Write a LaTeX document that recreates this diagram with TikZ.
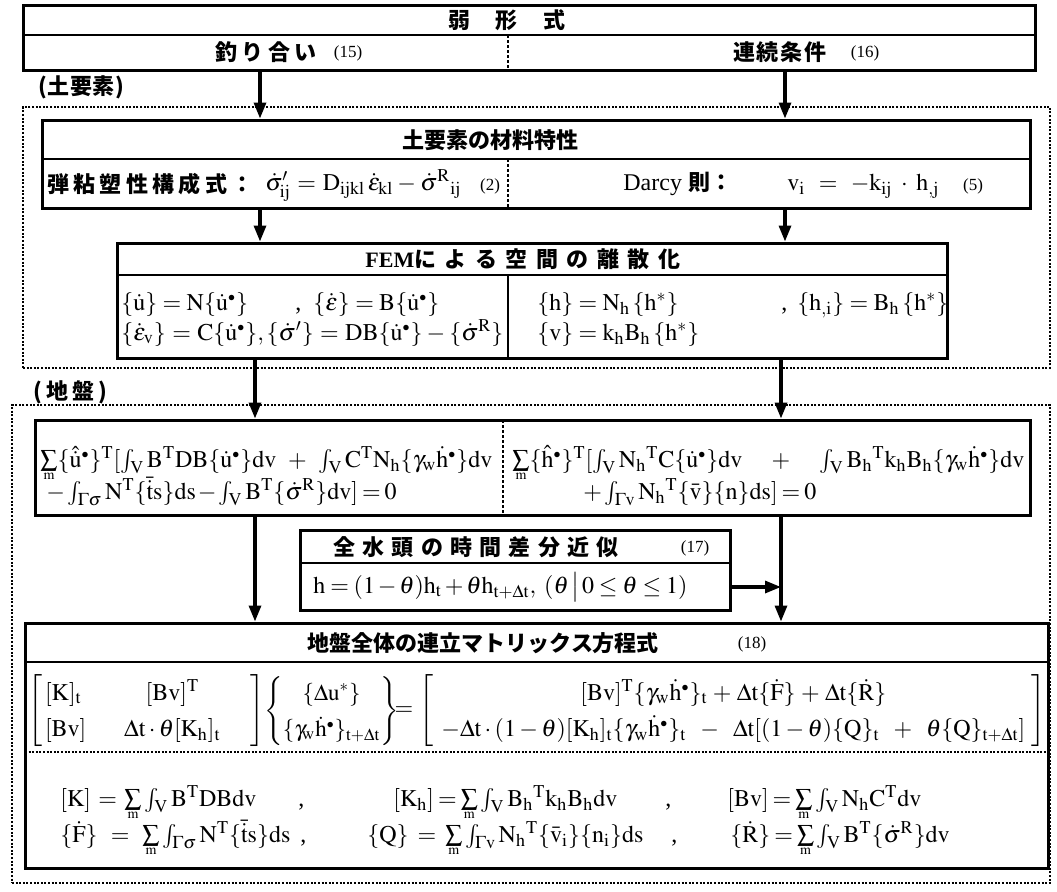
\documentclass[tikz,border=0pt]{standalone}
\usepackage{amsmath}
\usepackage{mathptmx}
\usepackage[no-math]{fontspec}
\setmainfont{Liberation Serif}
\newfontfamily\jp{Noto Sans CJK JP}
\usetikzlibrary{arrows.meta,positioning,fit}
% upright latin letters in math
\makeatletter
\count@=`a \loop\mathcode\count@=\numexpr"7000+\count@\relax\advance\count@ 1 \ifnum\count@<123 \repeat
\count@=`A \loop\mathcode\count@=\numexpr"7000+\count@\relax\advance\count@ 1 \ifnum\count@<91 \repeat
\makeatother
\newcommand{\eqsz}{\fontsize{12}{14}\selectfont}
\newcommand{\mxsz}{\eqsz\def\arraystretch{1.3}}
\newcommand{\jpt}{\jp\bfseries\fontsize{11}{13}\selectfont}
\newcommand{\nd}{^{\scriptscriptstyle\bullet}}
% sum with a tight m below
\newcommand{\sm}{\mathop{\vtop{\offinterlineskip\halign{\hfil##\hfil\cr$\textstyle\sum$\cr\noalign{\kern0.8pt}$\scriptscriptstyle m$\cr}}}}
% formula spread to a given width
\newcommand{\fitw}[2]{\makebox[#1][s]{$#2$}}
\ExplSyntaxOn
\NewDocumentCommand\spread{mm}{\makebox[#1][l]{\tl_map_inline:nn{#2}{##1\hfill}\unskip}}
\ExplSyntaxOff

\begin{document}
\begin{tikzpicture}[x=0.5pt,y=-0.5pt,
  frame/.style={draw,line width=1.5pt,inner sep=0pt},
  zone/.style={draw,line width=1.1pt,dash pattern=on 1pt off 0.8pt,inner sep=0pt},
  rowline/.style={line width=0.9pt},
  split/.style={line width=0.6pt,dash pattern=on 1.5pt off 1pt},
  sep/.style={line width=1.1pt,dash pattern=on 1pt off 0.8pt},
  flow/.style={-{Triangle[length=8pt,width=6pt]},line width=1.6pt},
  ttl/.style={font=\jpt,inner sep=0pt},
  eq/.style={font=\eqsz,inner sep=0pt,anchor=base west},
  mx/.style={font=\mxsz,inner sep=0pt,anchor=west},
  num/.style={font=\fontsize{8.5}{10}\selectfont,inner sep=0pt}]
  \useasboundingbox (0,0) rectangle (1057,891);

  % weak form
  \node[frame,fit={(23,5)(1035,70)}] (weak) {};
  \draw[rowline] (23,35) -- (1035,35);
  \draw[split] (508,35) -- (508,70);
  \node[ttl] (weakt) at (507,20) {\spread{59pt}{弱形式}};
  \node[ttl] (equil) at (266,52) {\spread{51pt}{釣り合い}};
  \node[num] (n15) at (348,53) {(15)};
  \node[ttl] (cont) at (780,52) {\spread{47pt}{連続条件}};
  \node[num] (n16) at (865,53) {(16)};

  % soil element
  \node[ttl,anchor=west] (soil) at (38,87) {\spread{43pt}{(土要素)}};
  \node[zone,fit={(23,107)(1050,368)}] (soilzone) {};

  \node[frame,fit={(42,120)(1030,208)}] (mat) {};
  \draw[rowline] (42,159) -- (1030,159);
  \draw[split] (508,159) -- (508,208);
  \node[ttl] (matt) at (490,140) {\spread{88pt}{土要素の材料特性}};
  \node[ttl,anchor=west] (consj) at (47,184) {\spread{103pt}{弾粘塑性構成式：}};
  \node[eq] (cons) at (265,190) {\fitw{98pt}{\dot\sigma'_{ij}=D_{ijkl}\,\dot\varepsilon_{kl}-\dot\sigma^R{}_{ij}}};
  \node[num] (n2) at (490,186) {(2)};
  \node[eq] (darcy) at (623,190) {Darcy {\jpt 則：}};
  \node[eq] (darcyeq) at (787,190) {\fitw{76pt}{v_i=-k_{ij}\cdot h_{,j}}};
  \node[num] (n5) at (973,186) {(5)};

  \node[frame,fit={(117,243)(947,358)}] (fem) {};
  \draw[rowline] (117,275) -- (947,275);
  \draw[rowline] (508,275) -- (508,358);
  \node[ttl,anchor=west] (femt) at (365,259) {\textrm{FEM}\spread{133pt}{による空間の離散化}};
  \node[eq] (fu) at (121,310) {$\{\dot u\}=N\{\dot u\nd\}$};
  \node[eq] (fc1) at (295,310) {,};
  \node[eq] (fe) at (313,310) {$\{\dot\varepsilon\}=B\{\dot u\nd\}$};
  \node[eq] (fev) at (121,340) {\fitw{191pt}{\{\dot\varepsilon_v\}=C\{\dot u\nd\},\{\dot\sigma'\}=DB\{\dot u\nd\}-\{\dot\sigma^R\}}};
  \node[eq] (fh) at (537,310) {$\{h\}=N_h\,\{h^*\}$};
  \node[eq] (fc2) at (781,310) {,};
  \node[eq] (fhi) at (797,310) {$\{h_{,i}\}=B_h\,\{h^*\}$};
  \node[eq] (fv) at (537,340) {$\{v\}=k_hB_h\,\{h^*\}$};

  % ground
  \node[ttl,anchor=west] (ground) at (33,392) {\spread{37pt}{(地盤)}};
  \node[zone,fit={(12,405)(1050,883)}] (groundzone) {};

  \node[frame,fit={(35,420)(1030,515)}] (wk) {};
  \draw[split] (503,420) -- (503,515);
  \node[eq] (wkl1) at (40,467) {\fitw{226pt}{\sm\{\hat{\dot u}\nd\}^T[\int_V B^TDB\{\dot u\nd\}dv+\int_V C^TN_h\{\gamma_w\dot h\nd\}dv}};
  \node[eq] (wkl2) at (46,499) {\fitw{145pt}{-\int_{\Gamma\sigma}N^T\{\bar{\dot t}s\}ds-\int_V B^T\{\dot\sigma^R\}dv]=0}};
  \node[eq] (wkr1) at (512,467) {\fitw{256pt}{\sm\{\hat h\nd\}^T[\int_V N_h{}^TC\{\dot u\nd\}dv+\int_V B_h{}^Tk_hB_h\{\gamma_w\dot h\nd\}dv}};
  \node[eq] (wkr2) at (583,499) {\fitw{111pt}{+\int_{\Gamma v}N_h{}^T\{\bar v\}\{n\}ds]=0}};

  \node[frame,fit={(300,530)(730,610)}] (td) {};
  \draw[rowline] (300,563) -- (730,563);
  \node[ttl] (tdt) at (476,547) {\spread{143pt}{全水頭の時間差分近似}};
  \node[num] (n17) at (695,548) {(17)};
  \node[eq] (tdeq) at (313,593) {\fitw{187pt}{h=(1-\theta)h_t+\theta h_{t+\Delta t},\ (\theta\,\big|\,0\le\theta\le1)}};

  \node[frame,fit={(25,623)(1048,868)}] (mxb) {};
  \draw[rowline] (25,662) -- (1048,662);
  \draw[sep] (25,752) -- (1048,752);
  \node[ttl] (mxt) at (477,643) {\spread{170pt}{地盤全体の連立マトリックス方程式}};
  \node[num] (n18) at (752,644) {(18)};
  \node[mx] (lhs) at (28,711) {$\left[\begin{array}{@{\,}l@{\hspace{4pt}}c@{}}[K]_t & \makebox[78pt]{$[Bv]^T$}\\ \relax[Bv] & \makebox[78pt]{$\Delta t\cdot\theta[K_h]_t$}\end{array}\right]$};
  \node[mx,font=\fontsize{11.5}{13.5}\selectfont\def\arraystretch{1.35}] (unk) at (264,711) {$\left\{\begin{array}{@{}c@{}}\{\Delta u^*\}\\ \{\gamma_{\!w}\dot h\nd\}_{t+\Delta t}\end{array}\right\}$};
  \node[mx,anchor=center] (eqs) at (404,711) {$=$};
  \node[mx] (rhs) at (419,711) {$\left[\begin{array}{@{\hspace{4pt}}c@{\hspace{3pt}}}\makebox[292pt]{\fitw{153pt}{[Bv]^T\{\gamma_w\dot h\nd\}_t+\Delta t\{\dot F\}+\Delta t\{\dot R\}}}\\ \fitw{292pt}{-{\Delta t\cdot(1-\theta)}[K_h]_t\{\gamma_w\dot h\nd\}_t-\Delta t[{(1-\theta)}\{Q\}_t+\theta\{Q\}_{t+\Delta t}]}\end{array}\right]$};

  \node[eq] (dk) at (60,806) {\fitw{98pt}{[K]=\sm\int_V B^TDBdv}};
  \node[eq] (c1) at (298,806) {,};
  \node[eq] (dkh) at (393,806) {\fitw{112pt}{[K_h]=\sm\int_V B_h{}^Tk_hB_hdv}};
  \node[eq] (c2) at (665,806) {,};
  \node[eq] (dbv) at (727,806) {\fitw{86pt}{[Bv]=\sm\int_V N_hC^Tdv}};
  \node[eq] (df) at (60,842) {\fitw{115pt}{\{\dot F\}=\sm\int_{\Gamma\sigma}N^T\{\bar{\dot t}s\}ds}};
  \node[eq] (c3) at (300,842) {,};
  \node[eq] (dq) at (367,842) {\fitw{138pt}{\{Q\}=\sm\int_{\Gamma v}N_h{}^T\{\bar v_i\}\{n_i\}ds}};
  \node[eq] (c4) at (671,842) {,};
  \node[eq] (dr) at (730,842) {\fitw{96pt}{\{\dot R\}=\sm\int_V B^T\{\dot\sigma^R\}dv}};

  % flow
  \coordinate (xa) at (260,0);
  \coordinate (xb) at (785,0);
  \coordinate (xc) at (255,0);
  \coordinate (xd) at (781,0);
  \coordinate (hy) at (0,587);
  \draw[flow] (weak.south -| xa) -- (mat.north -| xa);
  \draw[flow] (weak.south -| xb) -- (mat.north -| xb);
  \draw[flow] (mat.south -| xa) -- (fem.north -| xa);
  \draw[flow] (mat.south -| xb) -- (fem.north -| xb);
  \draw[flow] (fem.south -| xc) -- (wk.north -| xc);
  \draw[flow] (fem.south -| xd) -- (wk.north -| xd);
  \draw[flow] (wk.south -| xc) -- (mxb.north -| xc);
  \draw[flow] (wk.south -| xd) -- (mxb.north -| xd);
  \draw[flow] (td.east |- hy) -- (xd |- hy);
\end{tikzpicture}
\end{document}
